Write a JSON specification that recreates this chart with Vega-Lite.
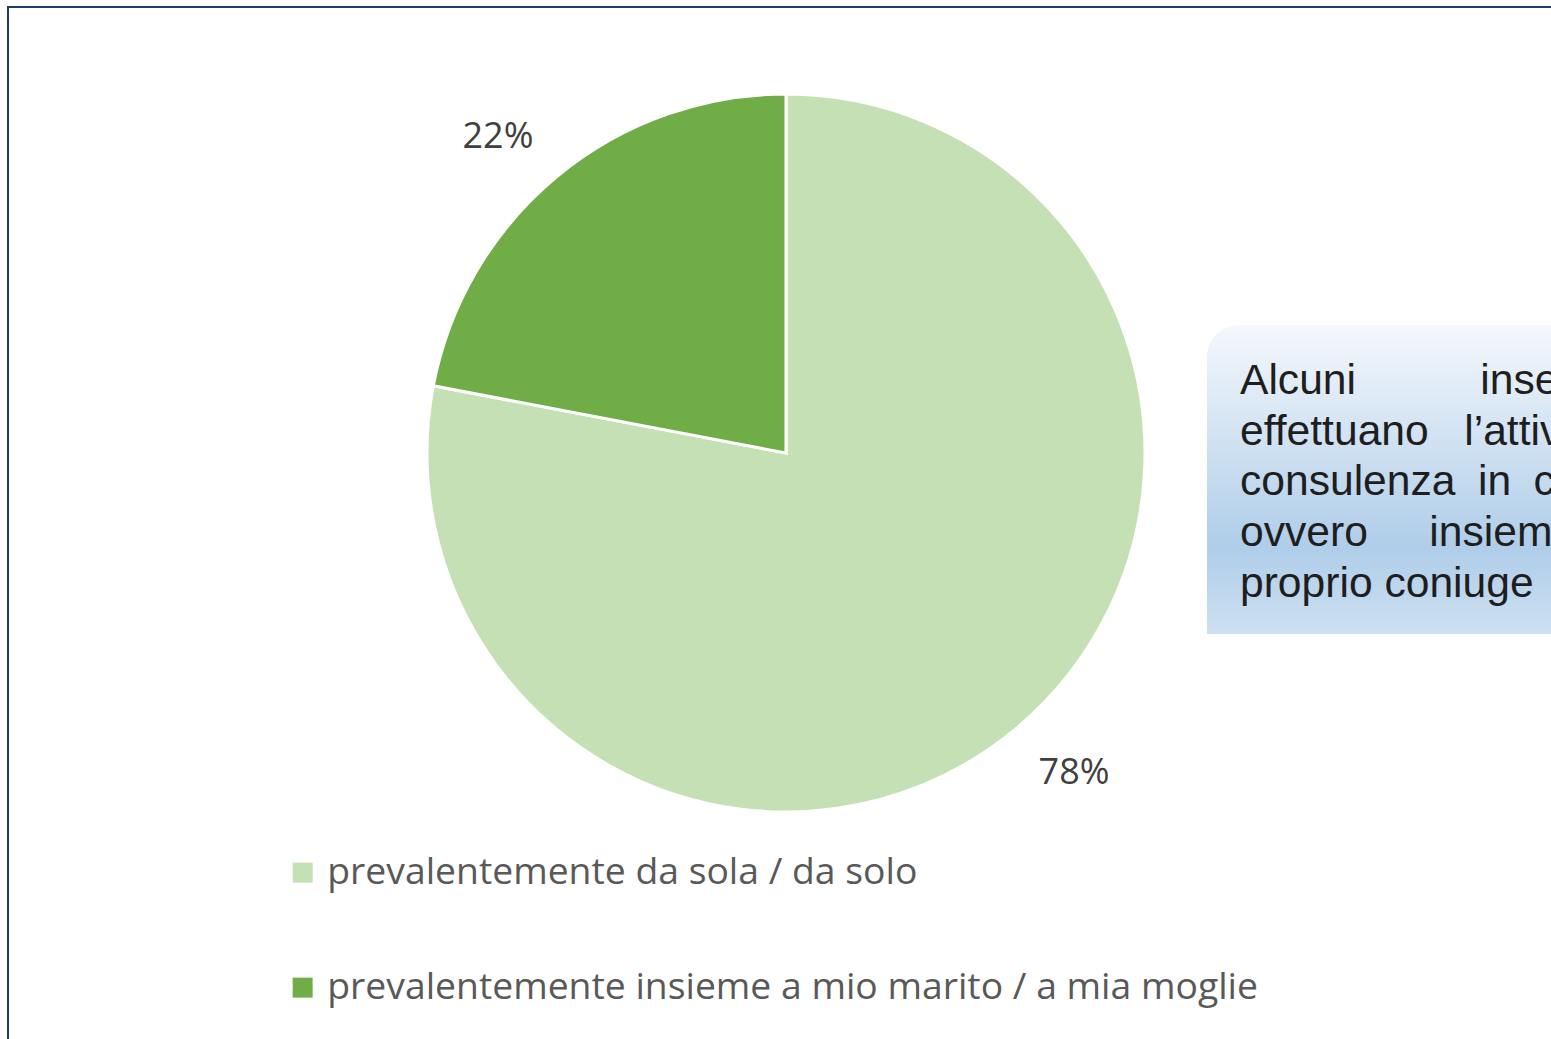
{
  "$schema": "https://vega.github.io/schema/vega-lite/v6.json",
  "width": 1530,
  "height": 906,
  "autosize": {"type": "none"},
  "padding": {"left": 21, "top": 0, "right": 0, "bottom": 133},
  "background": "#ffffff",
  "config": {"view": {"stroke": null}},
  "datasets": {
    "quote": [
      {"risposta": "prevalentemente da sola / da solo", "quota": 0.78},
      {"risposta": "prevalentemente insieme a mio marito / a mia moglie", "quota": 0.22}
    ],
    "nota": [
      {"testo": "Alcuni\u2003\u2003\u2002\u2005\u2006inserzionisti\neffettuano\u2002\u2004l’attività\nconsulenza \u2005in \u2005coppia\novvero\u2003 \u2006insieme\nproprio coniuge"}
    ]
  },
  "layer": [
    {
      "data": {"values": [{}]},
      "mark": {"type": "rect", "filled": false, "stroke": "#1f3b70", "strokeWidth": 2, "clip": false},
      "encoding": {
        "x": {"datum": 8, "type": "quantitative", "scale": {"domain": [21, 1551], "range": [0, 1530], "nice": false, "zero": false}, "axis": null},
        "x2": {"datum": 1700},
        "y": {"datum": 7, "type": "quantitative", "scale": {"domain": [0, 906], "range": [0, 906], "nice": false, "zero": false}, "axis": null},
        "y2": {"datum": 1200}
      }
    },
    {
      "data": {"values": [{}]},
      "mark": {
        "type": "rect",
        "cornerRadiusTopLeft": 32,
        "fill": {
          "gradient": "linear", "x1": 0, "y1": 0, "x2": 0, "y2": 1,
          "stops": [
            {"offset": 0, "color": "#f5f8fc"},
            {"offset": 0.72, "color": "#afcde9"},
            {"offset": 1, "color": "#cde0f1"}
          ]
        }
      },
      "encoding": {
        "x": {"datum": 1207, "type": "quantitative"},
        "x2": {"datum": 1700},
        "y": {"datum": 325, "type": "quantitative"},
        "y2": {"datum": 634}
      }
    },
    {
      "data": {"name": "nota"},
      "mark": {"type": "text", "font": "Liberation Sans", "fontSize": 42.6, "color": "#1e1e1e", "align": "left", "baseline": "alphabetic", "lineBreak": "\n", "lineHeight": 50.7},
      "encoding": {
        "x": {"datum": 1240, "type": "quantitative"},
        "y": {"datum": 394, "type": "quantitative"},
        "text": {"field": "testo"}
      }
    },
    {
      "data": {"name": "quote"},
      "mark": {"type": "arc", "outerRadius": 359, "stroke": "#ffffff", "strokeWidth": 3},
      "encoding": {
        "theta": {"field": "quota", "type": "quantitative", "stack": true},
        "order": {"field": "risposta", "type": "nominal", "sort": "ascending"},
        "color": {
          "field": "risposta", "type": "nominal",
          "scale": {"domain": ["prevalentemente da sola / da solo", "prevalentemente insieme a mio marito / a mia moglie"], "range": ["#c5e0b4", "#70ad47"]},
          "legend": {
            "orient": "none", "legendX": 263, "legendY": 854, "direction": "vertical", "title": null,
            "symbolType": "square", "symbolSize": 400, "symbolStrokeWidth": 0, "symbolOpacity": 1,
            "labelFont": "Open Sans", "labelFontSize": 37.3, "labelColor": "#595959", "labelOffset": 6, "labelLimit": 0,
            "rowPadding": 77, "padding": 0
          }
        }
      }
    },
    {
      "data": {"name": "quote"},
      "mark": {"type": "text", "radius": 429, "thetaOffset": -0.045, "dy": 2, "font": "Open Sans", "fontSize": 36, "color": "#404040"},
      "encoding": {
        "theta": {"field": "quota", "type": "quantitative", "stack": true},
        "order": {"field": "risposta", "type": "nominal", "sort": "ascending"},
        "text": {"field": "quota", "type": "quantitative", "format": ".0%"}
      }
    }
  ]
}
